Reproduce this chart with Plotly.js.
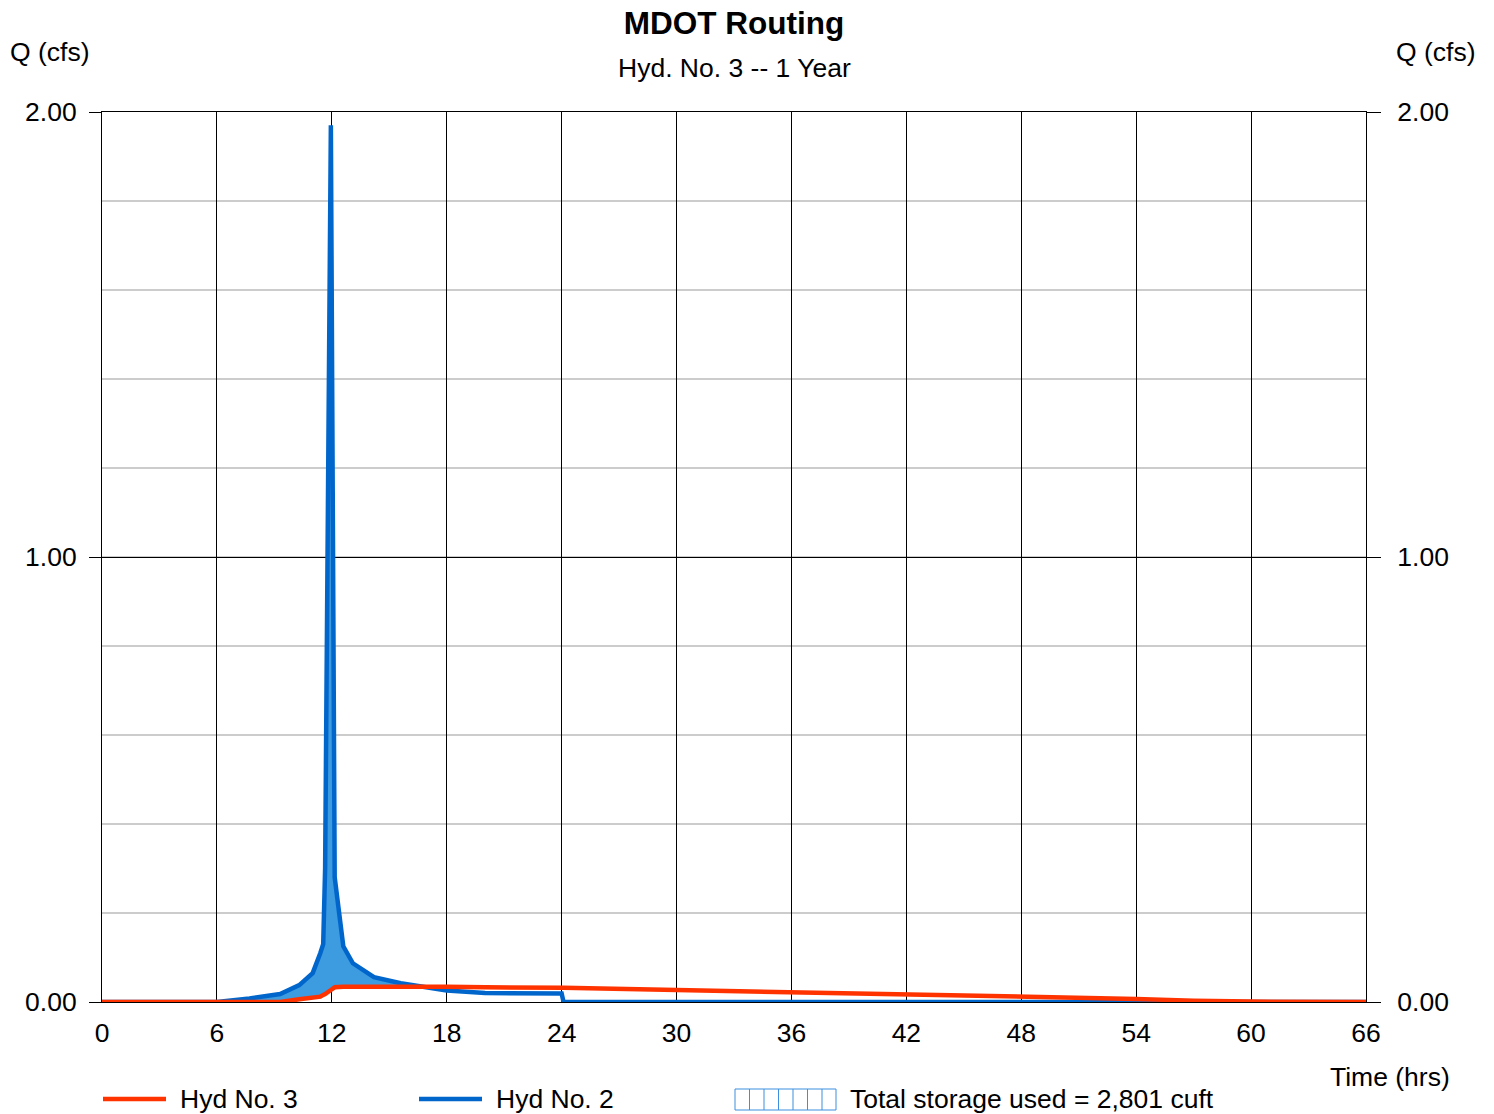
<!DOCTYPE html>
<html>
<head>
<meta charset="utf-8">
<script src="https://cdn.plot.ly/plotly-3.0.1.min.js"></script>
<style>
  html, body { margin: 0; padding: 0; background: #fff; }
  #chart { width: 1494px; height: 1114px; }
</style>
</head>
<body>
<div id="chart"></div>
<script>
// ---- Data ----
const timeHrs = [0, 6, 7.7, 9.3, 10.3, 11, 11.4, 11.55, 11.65, 11.95, 12.15, 12.6, 13.1, 14.2, 15.6, 18, 20, 24, 24.1, 30, 36, 42, 48, 51, 54, 57, 60, 66];
const hyd2Inflow = [0, 0, 0.008, 0.018, 0.038, 0.065, 0.11, 0.13, 0.30, 1.97, 0.28, 0.125, 0.087, 0.056, 0.042, 0.026, 0.020, 0.019, 0, 0, 0, 0, 0, 0, 0, 0, 0, 0];
const hyd3Outflow = [0, 0, 0, 0, 0.006, 0.010, 0.012, 0.016, 0.018, 0.027, 0.033, 0.034, 0.034, 0.035, 0.036, 0.034, 0.033, 0.032, 0.032, 0.027, 0.022, 0.017, 0.013, 0.011, 0.007, 0.003, 0.001, 0];
const xTicks = [0, 6, 12, 18, 24, 30, 36, 42, 48, 54, 60, 66];
const yTicks = [0, 1, 2];
const seriesNames = ["Hyd No. 3", "Hyd No. 2"];
const storageLabel = "Total storage used = 2,801 cuft";

// storage region: between outflow and max(inflow, outflow)
const storageUpper = hyd2Inflow.map((v, i) => Math.max(v, hyd3Outflow[i]));

const RED = "#ff3300", BLUE = "#0066cc", FILL = "#3d9be0";
const FONT = "Liberation Sans, Arial, sans-serif";
const FS = 26.5;

// pixel -> paper helpers (plot area: x 102..1366, y 112..1002)
const L = 102, R = 1366, T = 112, B = 1002;
const px = x => (x - L) / (R - L);
const py = y => (B - y) / (B - T);

const traces = [
  { x: timeHrs, y: hyd3Outflow, mode: "lines", line: { width: 0, color: RED }, hoverinfo: "skip", showlegend: false },
  { x: timeHrs, y: storageUpper, mode: "lines", fill: "tonexty", fillcolor: FILL, line: { width: 0, color: FILL }, hoverinfo: "skip", showlegend: false },
  { x: timeHrs, y: hyd2Inflow, mode: "lines", name: seriesNames[1], line: { width: 4.5, color: BLUE }, showlegend: false },
  { x: timeHrs, y: hyd3Outflow, mode: "lines", name: seriesNames[0], line: { width: 4.5, color: RED }, showlegend: false },
  { x: timeHrs, y: hyd3Outflow, mode: "lines", yaxis: "y2", line: { width: 0, color: RED }, hoverinfo: "skip", showlegend: false }
];

// legend drawn as shapes + annotations
const shapes = [
  { type: "line", xref: "paper", yref: "paper", x0: px(103), x1: px(166), y0: py(1099), y1: py(1099), line: { color: RED, width: 4.5 } },
  { type: "line", xref: "paper", yref: "paper", x0: px(419), x1: px(482), y0: py(1099), y1: py(1099), line: { color: BLUE, width: 4.5 } },
  { type: "rect", xref: "paper", yref: "paper", x0: px(735), x1: px(836), y0: py(1110), y1: py(1089), line: { color: "#3d8fe0", width: 1 }, fillcolor: "rgba(0,0,0,0)" }
];
for (let k = 1; k <= 6; k++) {
  const xx = 735 + k * 14.5;
  shapes.push({ type: "line", xref: "paper", yref: "paper", x0: px(xx), x1: px(xx), y0: py(1110), y1: py(1089), line: { color: "#3d8fe0", width: 1 } });
}

const annotations = [
  { text: "Hyd. No. 3 -- 1 Year", xref: "paper", yref: "paper", x: px(734), y: py(68), showarrow: false, font: { size: FS, color: "#000", family: FONT }, xanchor: "center", yanchor: "middle" },
  { text: "Q (cfs)", xref: "paper", yref: "paper", x: px(8), y: py(52), showarrow: false, font: { size: FS, color: "#000", family: FONT }, xanchor: "left", yanchor: "middle" },
  { text: "Q (cfs)", xref: "paper", yref: "paper", x: px(1478), y: py(52), showarrow: false, font: { size: FS, color: "#000", family: FONT }, xanchor: "right", yanchor: "middle" },
  { text: "Time (hrs)", xref: "paper", yref: "paper", x: px(1452), y: py(1077), showarrow: false, font: { size: FS, color: "#000", family: FONT }, xanchor: "right", yanchor: "middle" },
  { text: seriesNames[0], xref: "paper", yref: "paper", x: px(178), y: py(1099), showarrow: false, font: { size: FS, color: "#000", family: FONT }, xanchor: "left", yanchor: "middle" },
  { text: seriesNames[1], xref: "paper", yref: "paper", x: px(494), y: py(1099), showarrow: false, font: { size: FS, color: "#000", family: FONT }, xanchor: "left", yanchor: "middle" },
  { text: storageLabel, xref: "paper", yref: "paper", x: px(848), y: py(1099), showarrow: false, font: { size: FS, color: "#000", family: FONT }, xanchor: "left", yanchor: "middle" }
];

const layout = {
  width: 1494, height: 1114,
  margin: { l: L, r: 1494 - R, t: T, b: 1114 - B, pad: 0 },
  paper_bgcolor: "#fff", plot_bgcolor: "#fff",
  font: { family: FONT, size: FS, color: "#000" },
  title: { text: "<b>MDOT Routing</b>", font: { size: 31.5, family: FONT, color: "#000" }, x: 0.5, xref: "paper", xanchor: "center", y: 1 - 23 / 1114, yref: "container", yanchor: "middle" },
  showlegend: false,
  xaxis: {
    range: [0, 66], tickvals: xTicks, ticktext: xTicks.map(String),
    showgrid: true, gridcolor: "#000", gridwidth: 1, zeroline: false,
    showline: true, linecolor: "#000", linewidth: 1, mirror: true,
    ticks: "", ticklabelstandoff: 7, tickfont: { size: FS, family: FONT, color: "#000" }
  },
  yaxis: {
    range: [0, 2], tickvals: yTicks, ticktext: yTicks.map(v => v.toFixed(2)),
    showgrid: true, gridcolor: "#000", gridwidth: 1, zeroline: false,
    showline: true, linecolor: "#000", linewidth: 1,
    ticks: "outside", ticklen: 12, tickcolor: "#000", tickwidth: 1, ticklabelstandoff: 7,
    tickfont: { size: FS, family: FONT, color: "#000" },
    minor: { dtick: 0.2, tick0: 0, showgrid: true, gridcolor: "#cccccc", gridwidth: 2, ticks: "" }
  },
  yaxis2: {
    range: [0, 2], tickvals: yTicks, ticktext: yTicks.map(v => v.toFixed(2)),
    overlaying: "y", side: "right", showgrid: false, zeroline: false,
    showline: true, linecolor: "#000", linewidth: 1,
    ticks: "outside", ticklen: 14, tickcolor: "#000", tickwidth: 1, ticklabelstandoff: 11,
    tickfont: { size: FS, family: FONT, color: "#000" }
  },
  shapes: shapes,
  annotations: annotations
};

Plotly.newPlot("chart", traces, layout, { displayModeBar: false, staticPlot: true });
</script>
</body>
</html>
